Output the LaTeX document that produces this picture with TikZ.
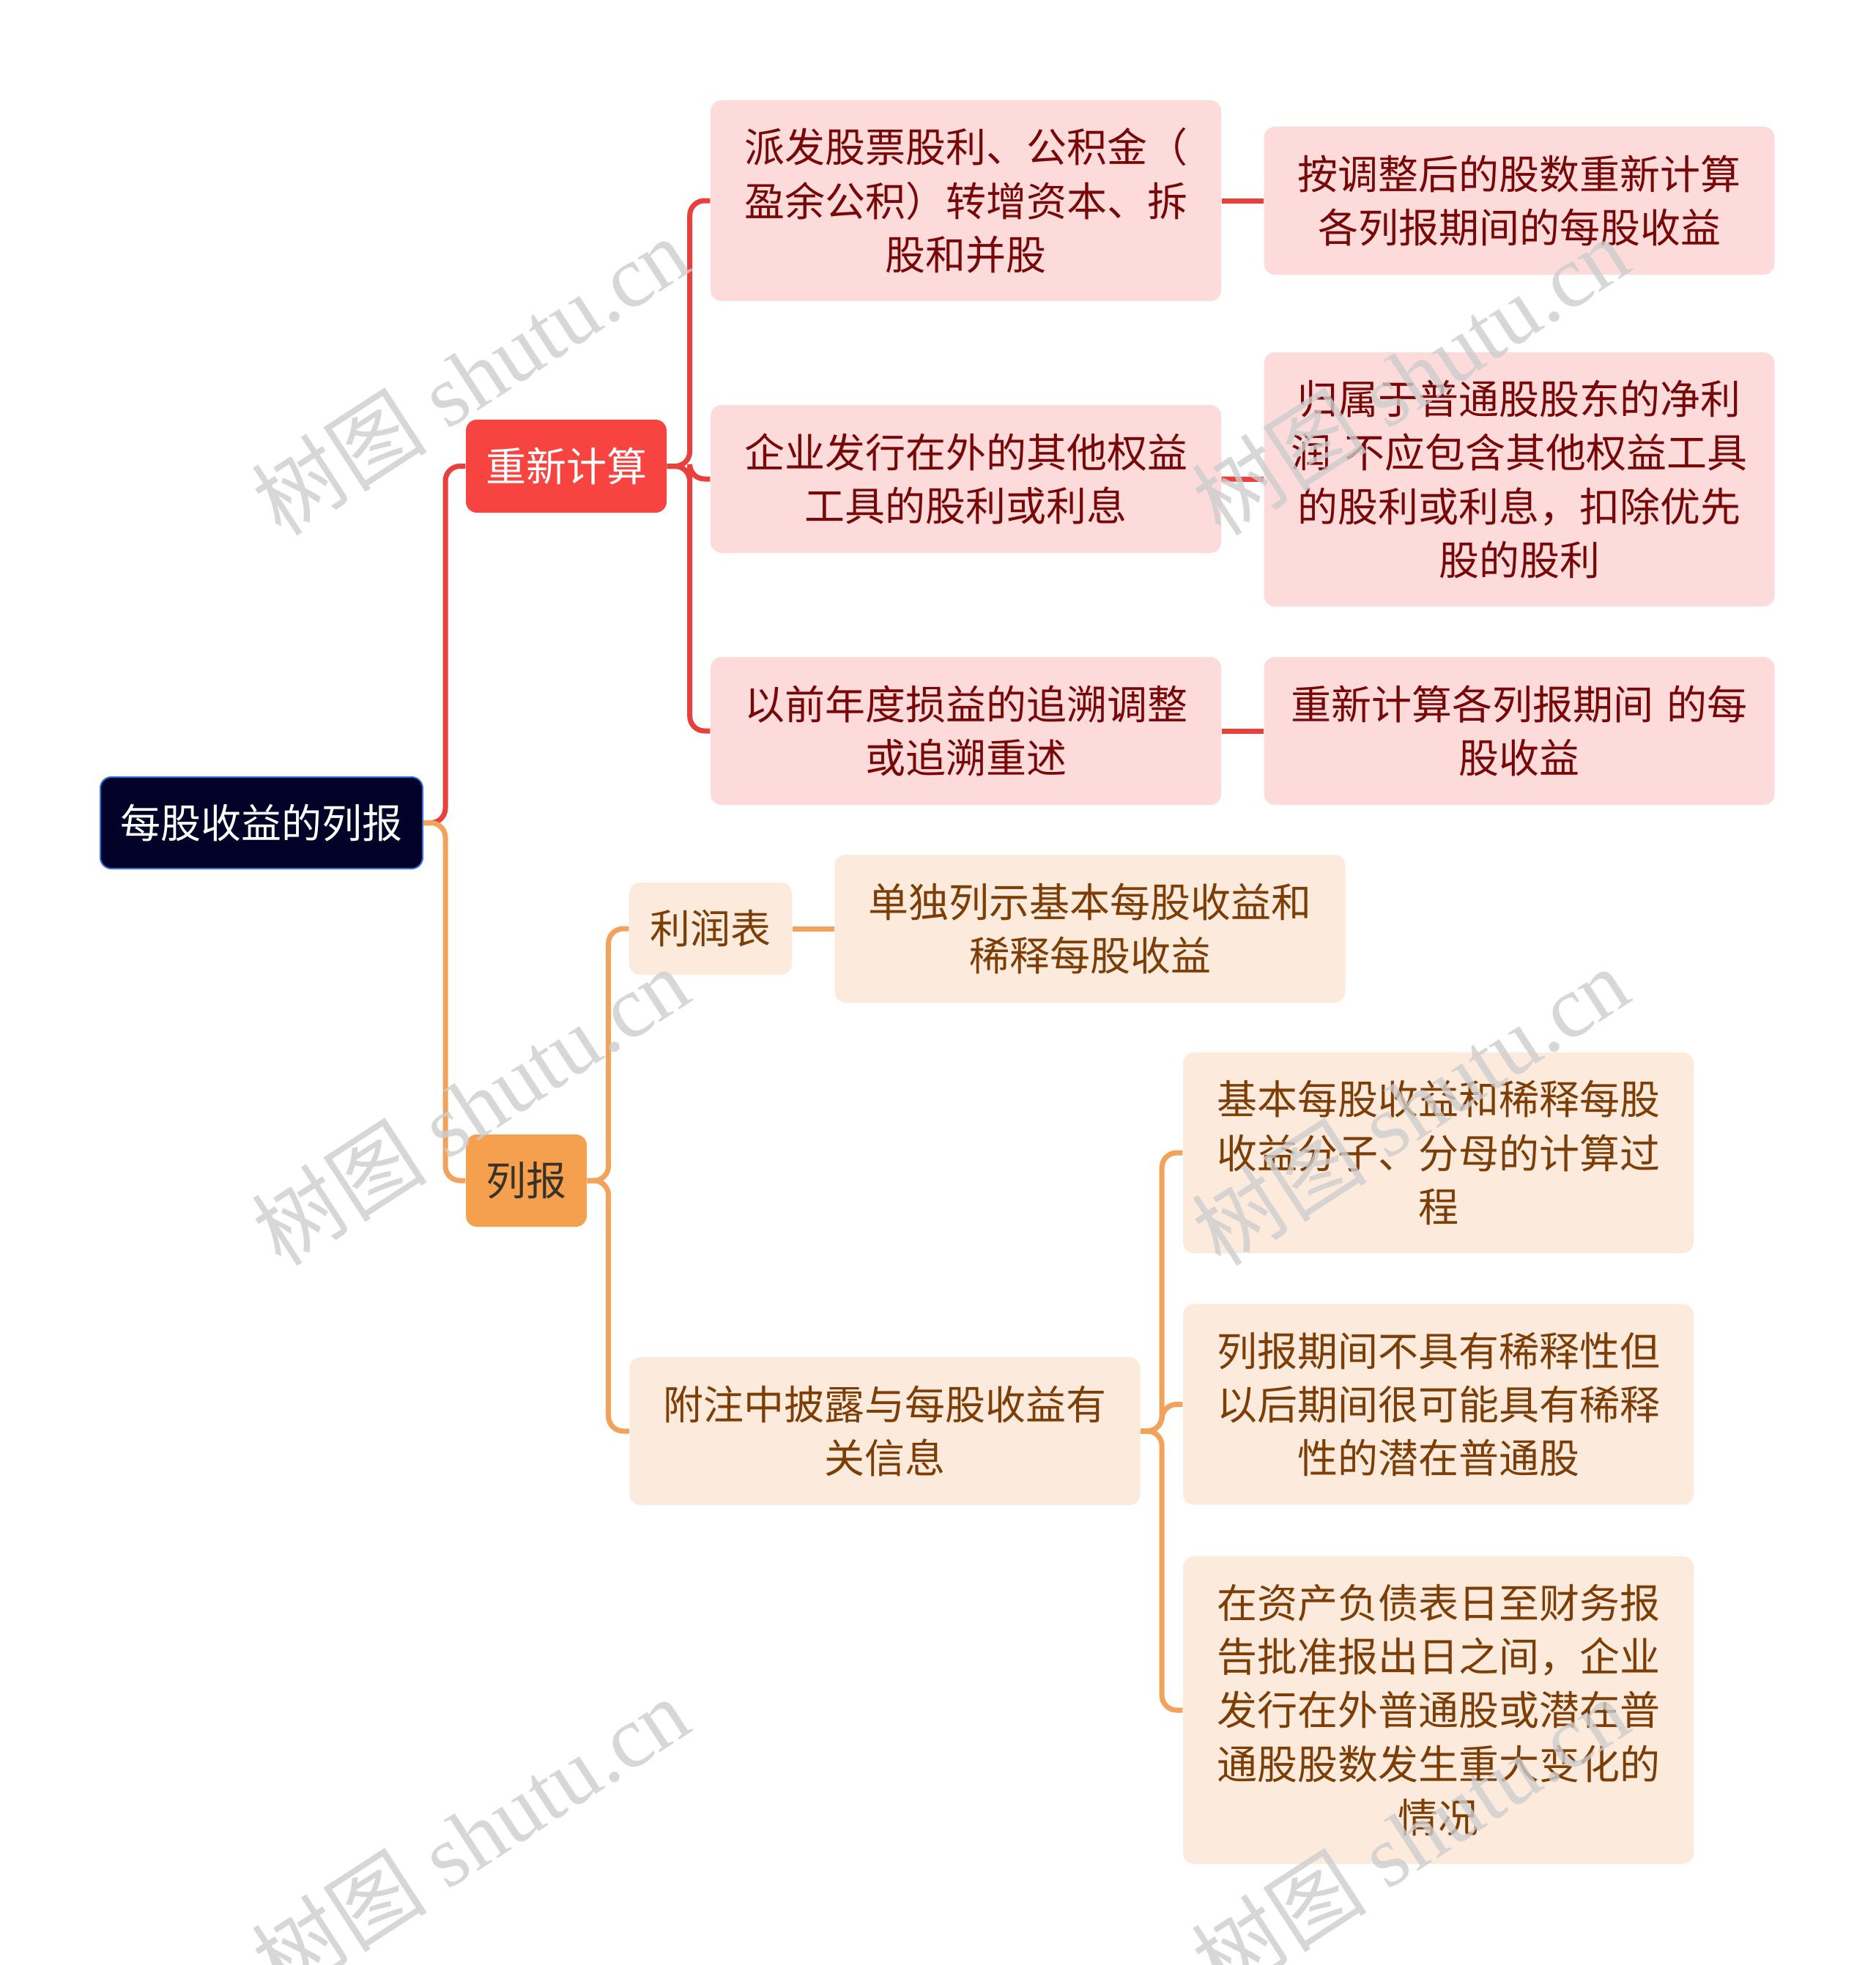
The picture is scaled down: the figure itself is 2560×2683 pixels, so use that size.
\documentclass[tikz,border=0pt]{standalone}
\usepackage{fontspec}
\setmainfont{Noto Sans CJK SC}
\newfontfamily\wmfont{Liberation Serif}
\newfontfamily\wmcjk{Noto Sans CJK SC}
\definecolor{epsnavy}{RGB}{2,2,40}
\definecolor{epsblue}{RGB}{60,110,215}
\definecolor{epsred}{RGB}{247,68,64}
\definecolor{epsline}{RGB}{232,64,60}
\definecolor{epspink}{RGB}{253,219,219}
\definecolor{epsdarkred}{RGB}{120,8,8}
\definecolor{epsorange}{RGB}{245,160,78}
\definecolor{epsoline}{RGB}{242,162,90}
\definecolor{epscream}{RGB}{252,235,220}
\definecolor{epsbrown}{RGB}{124,62,6}
\definecolor{epsdark}{RGB}{58,50,38}
\definecolor{epswm}{RGB}{205,205,205}
\usetikzlibrary{positioning}

\begin{document}
\begin{tikzpicture}[x=0.3pt, y=-0.3pt,
  every node/.style={font=\fontsize{16.5pt}{22pt}\selectfont, align=center, rounded corners=4.5pt, inner sep=0pt},
  rootbox/.style={fill=epsnavy, draw=epsblue, line width=0.6pt, text=white, minimum width=132pt, minimum height=37.5pt},
  redcat/.style={fill=epsred, text=white, minimum width=82.2pt, minimum height=38.1pt},
  orangecat/.style={fill=epsorange, text=epsdark, minimum width=49.5pt, minimum height=37.8pt},
  redleaf/.style={fill=epspink, text=epsdarkred, text width=192pt, minimum width=209.1pt},
  orangeleaf/.style={fill=epscream, text=epsbrown, text width=192pt, minimum width=209.1pt},
  redlink/.style={draw=epsline, line width=2.1pt, rounded corners=6pt},
  orangelink/.style={draw=epsoline, line width=2.1pt, rounded corners=6pt},
  watermark/.style={text=epswm, opacity=0.8, rotate=33, font=\wmfont\fontsize{36pt}{40pt}\selectfont, rounded corners=0pt}
]
\useasboundingbox (0,0) rectangle (2560,2683);
% root and first level
\node[rootbox] (root) at (357,1123.5) {每股收益的列报};
\node[redcat] (recalc) at (773,636.5) {重新计算};
\node[orangecat] (report) at (718.5,1612) {列报};
% recalculation branch
\node[redleaf, minimum height=82.2pt] (bonus) at (1318.5,274) {派发股票股利、公积金（\\盈余公积）转增资本、拆\\股和并股};
\node[redleaf, minimum height=60.6pt] (equity) at (1318.5,654) {企业发行在外的其他权益\\工具的股利或利息};
\node[redleaf, minimum height=60.6pt] (restate) at (1318.5,998) {以前年度损益的追溯调整\\或追溯重述};
\node[redleaf, minimum height=60.6pt] (bonusres) at (2074,274) {按调整后的股数重新计算\\各列报期间的每股收益};
\node[redleaf, minimum height=104.1pt] (equityres) at (2074,654.5) {归属于普通股股东的净利\\润 不应包含其他权益工具\\的股利或利息，扣除优先\\股的股利};
\node[redleaf, minimum height=60.6pt] (restateres) at (2074,998) {重新计算各列报期间 的每\\股收益};
% reporting branch
\node[orangeleaf, text width=50pt, minimum width=66.6pt, minimum height=37.8pt] (income) at (970,1268) {利润表};
\node[orangeleaf, minimum height=60.6pt] (incomeres) at (1488,1268) {单独列示基本每股收益和\\稀释每股收益};
\node[orangeleaf, minimum height=60.6pt] (notes) at (1208,1954) {附注中披露与每股收益有\\关信息};
\node[orangeleaf, minimum height=82.2pt] (calcproc) at (1963.5,1574) {基本每股收益和稀释每股\\收益分子、分母的计算过\\程};
\node[orangeleaf, minimum height=82.2pt] (potential) at (1963.5,1917.5) {列报期间不具有稀释性但\\以后期间很可能具有稀释\\性的潜在普通股};
\node[orangeleaf, minimum height=126pt] (afterdate) at (1963.5,2335) {在资产负债表日至财务报\\告批准报出日之间，企业\\发行在外普通股或潜在普\\通股股数发生重大变化的\\情况};
% connectors
\draw[redlink] (root.east) -- ++(9pt,0) |- (recalc.west);
\draw[orangelink] (root.east) -- ++(9pt,0) |- (report.west);
\foreach \kid in {bonus,equity,restate}
  \draw[redlink] (recalc.east) -- ++(9.3pt,0) |- (\kid.west);
\draw[redlink] (bonus) -- (bonusres);
\draw[redlink] (equity) -- (equityres);
\draw[redlink] (restate) -- (restateres);
\foreach \kid in {income,notes}
  \draw[orangelink] (report.east) -- ++(8.7pt,0) |- (\kid.west);
\draw[orangelink] (income) -- (incomeres);
\foreach \kid in {calcproc,potential,afterdate}
  \draw[orangelink] (notes.east) -- ++(8.7pt,0) |- (\kid.west);
% watermarks
\foreach \wx/\wy [count=\wi] in {642/513,1925/513,642/1510,1925/1510,642/2507,1925/2507}
  \node[watermark] (wm\wi) at (\wx,\wy) {{\wmcjk 树图} shutu.cn};
\end{tikzpicture}
\end{document}
